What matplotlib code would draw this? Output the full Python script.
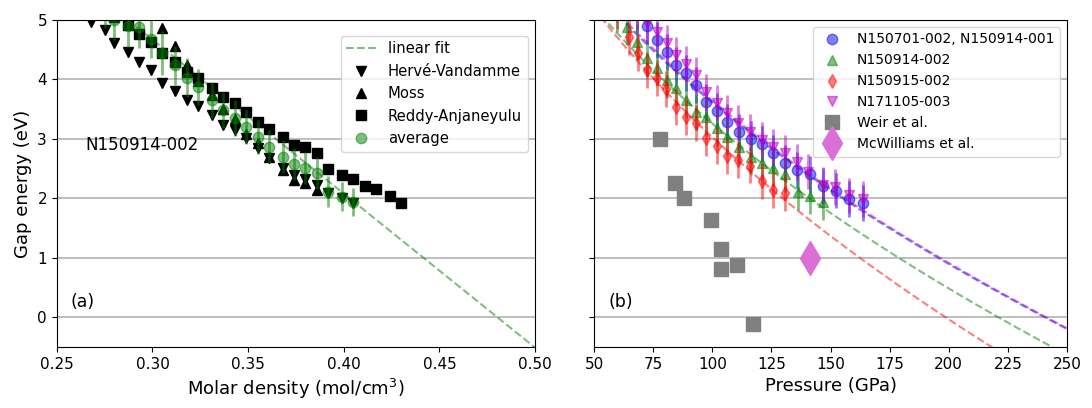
import numpy as np
import matplotlib.pyplot as plt

# --- left panel: gap energy vs molar density (N150914-002) ---
rho_hv = [0.268, 0.275, 0.280, 0.287, 0.293, 0.299, 0.305, 0.312, 0.318, 0.324,
          0.331, 0.337, 0.343, 0.349, 0.355, 0.361, 0.368, 0.374, 0.380, 0.386,
          0.392, 0.399, 0.405]
gap_hv = [4.97, 4.83, 4.61, 4.46, 4.29, 4.16, 3.94, 3.81, 3.66, 3.55,
          3.40, 3.24, 3.15, 3.02, 2.85, 2.68, 2.51, 2.39, 2.33, 2.23,
          2.09, 2.01, 1.92]

rho_moss = [0.305, 0.312, 0.318, 0.324, 0.331, 0.337, 0.343, 0.349, 0.355, 0.361,
            0.368, 0.374, 0.380, 0.386]
gap_moss = [4.87, 4.56, 4.24, 3.98, 3.74, 3.50, 3.34, 3.08, 2.93, 2.70,
            2.48, 2.31, 2.26, 2.14]

rho_reddy = [0.280, 0.287, 0.293, 0.299, 0.305, 0.312, 0.318, 0.324, 0.331, 0.337,
             0.343, 0.349, 0.355, 0.361, 0.368, 0.374, 0.380, 0.386, 0.392, 0.399,
             0.405, 0.411, 0.417, 0.424, 0.430]
gap_reddy = [5.05, 4.92, 4.76, 4.63, 4.45, 4.30, 4.13, 4.03, 3.86, 3.71,
             3.61, 3.45, 3.29, 3.17, 3.03, 2.90, 2.87, 2.76, 2.50, 2.39,
             2.33, 2.21, 2.16, 2.04, 1.92]

rho_avg = [0.275, 0.280, 0.287, 0.293, 0.299, 0.305, 0.312, 0.318, 0.324, 0.331,
           0.337, 0.343, 0.349, 0.355, 0.361, 0.368, 0.374, 0.380, 0.386, 0.392,
           0.399, 0.405]
gap_avg = [5.20, 5.00, 4.90, 4.88, 4.68, 4.45, 4.24, 4.03, 3.87, 3.66,
           3.49, 3.35, 3.20, 3.03, 2.87, 2.70, 2.58, 2.51, 2.43, 2.11,
           2.03, 1.94]
err_avg = [0.33, 0.34, 0.35, 0.35, 0.32, 0.37, 0.33, 0.33, 0.30, 0.30,
           0.30, 0.30, 0.28, 0.28, 0.28, 0.28, 0.27, 0.27, 0.27, 0.26,
           0.25, 0.24]

# linear fit of the average: E = slope*rho + intercept
fit_lin = (-25.9, 12.44)

# --- right panel: gap energy vs pressure ---
p_blue = [59.8, 64.0, 68.2, 72.4, 76.6, 80.9, 84.7, 88.9, 93.1, 97.4, 102.0, 106.2,
          111.3, 116.4, 121.0, 125.7, 130.8, 135.8, 141.3, 146.8, 152.3, 157.8, 163.7]
e_blue = [5.55, 5.35, 5.10, 4.90, 4.66, 4.46, 4.24, 4.11, 3.91, 3.62, 3.47, 3.29,
          3.12, 3.00, 2.92, 2.76, 2.60, 2.48, 2.41, 2.21, 2.13, 1.99, 1.92]

p_green = [55.5, 59.8, 64.0, 68.2, 72.4, 76.6, 80.9, 84.7, 88.9, 93.1, 97.4, 102.0,
           106.2, 111.3, 116.4, 121.0, 125.7, 130.8, 136.3, 141.3, 146.8]
e_green = [5.35, 5.10, 4.88, 4.63, 4.36, 4.19, 3.99, 3.86, 3.66, 3.45, 3.37, 3.18,
           3.03, 2.87, 2.70, 2.60, 2.51, 2.41, 2.11, 2.04, 1.94]

p_red = [51.3, 55.5, 59.8, 64.8, 68.6, 72.4, 76.6, 80.4, 84.7, 88.9, 93.1, 97.4,
         102.0, 106.2, 110.9, 116.0, 121.0, 125.7, 130.8]
e_red = [5.60, 5.40, 5.15, 4.71, 4.45, 4.16, 4.03, 3.84, 3.54, 3.37, 3.27, 3.02,
         2.88, 2.71, 2.65, 2.55, 2.29, 2.14, 2.09]

p_purple = [63.9, 68.2, 72.4, 76.6, 80.9, 84.7, 88.9, 93.1, 97.4, 102.0, 106.2, 110.9,
            116.0, 121.0, 125.7, 130.8, 135.8, 140.5, 146.8, 151.9, 157.8, 163.7]
e_purple = [5.45, 5.15, 4.95, 4.80, 4.61, 4.41, 4.26, 4.08, 3.79, 3.61, 3.44, 3.27,
            3.12, 2.98, 2.87, 2.76, 2.61, 2.45, 2.23, 2.19, 2.05, 1.99]

p_weir = [77.9, 84.2, 88.1, 99.5, 103.7, 103.7, 110.5, 117.2]
e_weir = [3.00, 2.26, 2.01, 1.64, 1.15, 0.82, 0.88, -0.11]

p_mcw = [141.3]
e_mcw = [1.00]

# fits of the form E = a - k*sqrt(P)
fit_blue = (10.16, 0.655)
fit_green = (9.96, 0.670)
fit_red = (10.43, 0.740)
fit_purple = (10.22, 0.658)

fig = plt.figure(figsize=(10.92, 4.08), dpi=100)
ax1 = fig.add_axes([0.052, 0.1495, 0.438, 0.8015])
ax2 = fig.add_axes([0.544, 0.1495, 0.4331, 0.8015], sharey=ax1)

# left
rr = np.linspace(0.25, 0.50, 200)
ax1.plot(rr, fit_lin[0] * rr + fit_lin[1], '--', color='green', alpha=0.5, lw=1.5,
         label='linear fit')
ax1.plot(rho_hv, gap_hv, 'v', color='k', ms=7, label='Hervé-Vandamme')
ax1.plot(rho_moss, gap_moss, '^', color='k', ms=7, label='Moss')
ax1.plot(rho_reddy, gap_reddy, 's', color='k', ms=6.5, label='Reddy-Anjaneyulu')
ax1.errorbar(rho_avg, gap_avg, yerr=err_avg, fmt='none', ecolor='green', alpha=0.5, lw=2)
ax1.plot(rho_avg, gap_avg, 'o', color='green', alpha=0.5, ms=7.5, label='average')

ax1.set_xlim(0.25, 0.50)
ax1.set_ylim(-0.5, 5)
ax1.set_xticks(np.arange(0.25, 0.501, 0.05))
ax1.set_xticklabels(['%.2f' % t for t in np.arange(0.25, 0.501, 0.05)])
ax1.set_xlabel('Molar density (mol/cm$^3$)', fontsize=13)
ax1.set_ylabel('Gap energy (eV)', fontsize=13)
ax1.text(0.265, 2.9, 'N150914-002', fontsize=12, va='center')
ax1.text(0.257, 0.25, '(a)', fontsize=12.5, va='center')
ax1.legend(loc='upper right', bbox_to_anchor=(1.0, 0.975), fontsize=10.6)

# right
pp = np.linspace(50, 250, 300)
series = [
    (p_blue, e_blue, 'o', 'blue', 'N150701-002, N150914-001', fit_blue),
    (p_green, e_green, '^', 'green', 'N150914-002', fit_green),
    (p_red, e_red, 'd', 'red', 'N150915-002', fit_red),
    (p_purple, e_purple, 'v', 'm', 'N171105-003', fit_purple),
]
handles = []
for p, e, mk, c, lab, fit in series:
    ax2.plot(pp, fit[0] - fit[1] * np.sqrt(pp), '--', color=c, alpha=0.5, lw=1.5)
    ax2.errorbar(p, e, yerr=0.3, fmt='none', ecolor=c, alpha=0.5, lw=2)
    h, = ax2.plot(p, e, mk, color=c, alpha=0.5, ms=7.5, label=lab)
    handles.append(h)
h, = ax2.plot(p_weir, e_weir, 's', color='gray', ms=10.5, label='Weir et al.')
handles.append(h)
h, = ax2.plot(p_mcw, e_mcw, 'd', color='orchid', ms=17, label='McWilliams et al.')
handles.append(h)

ax2.set_xlim(50, 250)
ax2.set_xticks(np.arange(50, 251, 25))
ax2.set_xlabel('Pressure (GPa)', fontsize=13)
ax2.tick_params(labelleft=False)
ax2.text(56, 0.25, '(b)', fontsize=12.5, va='center')
ax2.legend(handles=handles, loc='upper right', fontsize=10)

for ax in (ax1, ax2):
    ax.yaxis.grid(True, color='0.7', lw=1.2)
    ax.set_axisbelow(True)
    ax.tick_params(labelsize=11)

fig.savefig('out.png', dpi=100)
